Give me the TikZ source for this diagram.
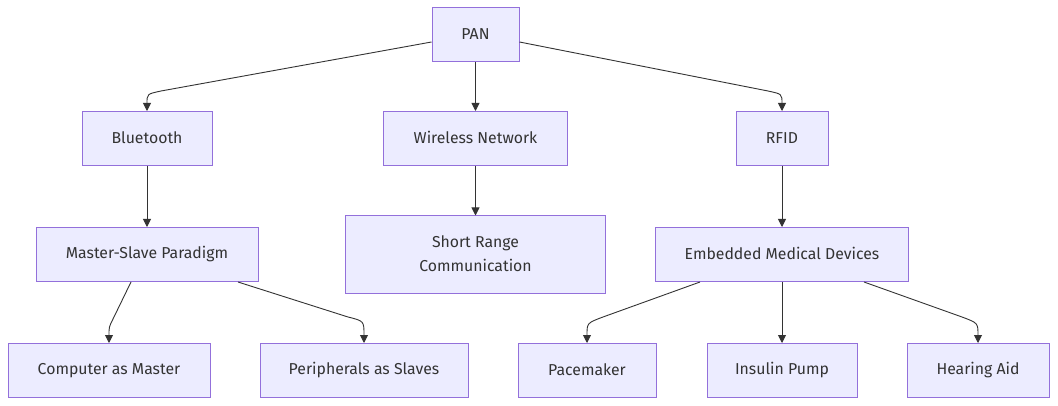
\documentclass[tikz,border=0pt]{standalone}
\usepackage{fontspec}
\setmainfont{Fira Sans}
\usetikzlibrary{arrows.meta,calc}
\definecolor{nfill}{HTML}{ECECFF}
\definecolor{nline}{HTML}{9370DB}
\definecolor{ntext}{HTML}{333333}
\begin{document}
\begin{tikzpicture}[x=1pt,y=-1pt,
  box/.style={draw=nline,fill=nfill,line width=1pt,text=ntext,inner sep=0pt,
    font=\fontsize{15.8}{24}\selectfont,align=center,minimum height=54,
    execute at begin node={\rule[-1.5pt]{0pt}{11.5pt}}},
  arr/.style={draw=ntext,line width=0.9pt,-{Triangle[length=8pt,width=8pt]}}]
\path[fill=white] (0,0) rectangle (1058,406);
\node[box,minimum width=87] (pan) at (475.5,35) {PAN};
\node[box,minimum width=130] (bt) at (147,138.5) {Bluetooth};
\node[box,minimum width=184] (wn) at (475.5,138.5) {Wireless Network};
\node[box,minimum width=92] (rfid) at (782,138.5) {RFID};
\node[box,minimum width=222] (ms) at (147,254.5) {Master-Slave Paradigm};
\node[box,minimum width=260,minimum height=77] (sr) at (475.5,254.5) {Short Range\\Communication};
\node[box,minimum width=253] (emd) at (782,254.5) {Embedded Medical Devices};
\node[box,minimum width=202] (cm) at (109,370.5) {Computer as Master};
\node[box,minimum width=208] (ps) at (364,370.5) {Peripherals as Slaves};
\node[box,minimum width=138] (pm) at (587,370.5) {Pacemaker};
\node[box,minimum width=150] (ip) at (782,370.5) {Insulin Pump};
\node[box,minimum width=142] (ha) at (978,370.5) {Hearing Aid};
% edges
\draw[arr] ($(pan.west)+(0,7)$) -- ($(bt.north)+(14,-20)$) .. controls ($(bt.north)+(0,-17)$) .. (bt.north);
\draw[arr] (pan) -- (wn);
\draw[arr] ($(pan.east)+(0,7)$) -- ($(rfid.north)+(-14,-20)$) .. controls ($(rfid.north)+(0,-17)$) .. (rfid.north);
\draw[arr] (bt) -- (ms);
\draw[arr] (wn) -- (sr);
\draw[arr] (rfid) -- (emd);
\draw[arr] ($(ms.south)+(-16,0)$) -- ($(cm.north)+(4,-24)$) .. controls ($(cm.north)+(0,-16)$) .. (cm.north);
\draw[arr] ($(ms.south)+(91,0)$) -- ($(ps.north)+(-16,-26)$) .. controls ($(ps.north)+(0,-22)$) .. (ps.north);
\draw[arr] ($(emd.south)+(-82,0)$) -- ($(pm.north)+(16,-26)$) .. controls ($(pm.north)+(0,-20)$) .. (pm.north);
\draw[arr] (emd) -- (ip);
\draw[arr] ($(emd.south)+(82,0)$) -- ($(ha.north)+(-16,-26)$) .. controls ($(ha.north)+(0,-20)$) .. (ha.north);
\end{tikzpicture}
\end{document}
